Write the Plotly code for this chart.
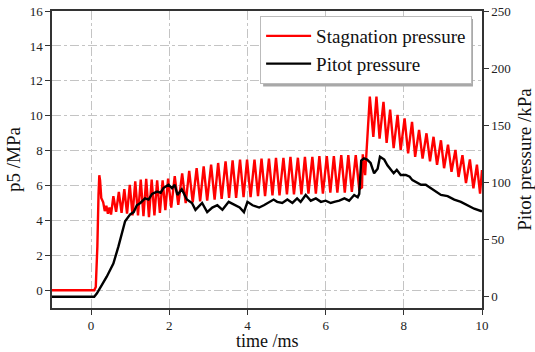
import plotly.graph_objects as go

# ---- data ----
stag_t = [-1.0, 0.08, 0.12, 0.16, 0.19, 0.21, 0.23, 0.26, 0.31, 0.35, 0.39, 0.43, 0.47, 0.51,
          0.57, 0.64, 0.71, 0.78, 0.85, 0.92, 0.99, 1.06, 1.13, 1.20, 1.27, 1.34, 1.41, 1.48,
          1.55, 1.62, 1.69, 1.76, 1.83, 1.90, 1.97, 2.05,
          2.14, 2.23, 2.33, 2.42, 2.51, 2.60, 2.70, 2.79, 2.88, 2.97, 3.07, 3.16, 3.25, 3.34,
          3.44, 3.53, 3.62, 3.71, 3.81, 3.90, 3.99, 4.08, 4.18, 4.27, 4.36, 4.45, 4.55, 4.64,
          4.73, 4.82, 4.92, 5.01, 5.10, 5.19, 5.29, 5.38, 5.47, 5.56, 5.66, 5.75, 5.84, 5.93,
          6.03, 6.12, 6.21, 6.30, 6.40, 6.49, 6.58, 6.67, 6.77, 6.86, 6.93, 6.95, 7.01,
          7.13, 7.22, 7.30, 7.38, 7.48, 7.56, 7.65, 7.74, 7.84, 7.92, 8.02, 8.11, 8.21, 8.29,
          8.39, 8.48, 8.58, 8.67, 8.76, 8.85, 8.95, 9.03, 9.13, 9.22, 9.32, 9.40, 9.50, 9.59,
          9.69, 9.78, 9.87, 9.95, 10.0]
stag_p = [0.02, 0.02, 0.2, 2.5, 5.5, 6.6, 6.3, 5.3, 5.05, 4.55, 4.85, 4.4, 4.75, 4.35,
          5.4, 4.5, 5.65, 4.45, 5.8, 4.4, 6.05, 4.3, 6.25, 4.3, 6.35, 4.25, 6.4, 4.2,
          6.35, 4.3, 6.3, 4.45, 6.3, 4.6, 6.4, 4.75,
          6.55, 4.9, 6.7, 5.0, 6.85, 5.05, 7.0, 5.1, 7.1, 5.15, 7.2, 5.2, 7.3, 5.25,
          7.4, 5.3, 7.45, 5.3, 7.5, 5.35, 7.5, 5.35, 7.5, 5.4, 7.55, 5.4, 7.55, 5.45,
          7.6, 5.45, 7.6, 5.5, 7.65, 5.5, 7.6, 5.5, 7.65, 5.55, 7.65, 5.55, 7.7, 5.55,
          7.7, 5.6, 7.7, 5.6, 7.75, 5.6, 7.75, 5.65, 7.75, 5.8, 5.9, 7.8, 6.6,
          11.1, 8.8, 11.1, 8.7, 10.8, 8.45, 10.35, 8.15, 10.05, 8.05, 9.85, 7.85, 9.65, 7.65,
          9.2, 7.55, 9.0, 7.4, 8.8, 7.2, 8.6, 7.0, 8.35, 6.8, 8.05, 6.5, 7.75, 6.15,
          7.5, 5.85, 7.2, 5.55, 6.9]

pitot_t = [-1.0, 0.08, 0.15, 0.27, 0.40, 0.57, 0.70, 0.87, 1.0, 1.09, 1.17, 1.26, 1.38, 1.47,
           1.56, 1.69, 1.78, 1.85, 1.98, 2.07, 2.14, 2.21, 2.32, 2.45, 2.58, 2.67, 2.75, 2.84,
           2.97, 3.1, 3.23, 3.36, 3.52, 3.67, 3.8, 3.91, 4.0, 4.13, 4.3, 4.42, 4.55, 4.67,
           4.76, 4.89, 5.02, 5.15, 5.27, 5.36, 5.49, 5.62, 5.75, 5.88, 6.0, 6.13, 6.22, 6.35,
           6.48, 6.6, 6.73, 6.82, 6.86, 6.91, 6.98, 7.06, 7.15, 7.24, 7.33, 7.39, 7.5, 7.58,
           7.67, 7.74, 7.82, 7.92, 8.05, 8.15, 8.22, 8.35, 8.44, 8.56, 8.69, 8.82, 8.95, 9.12,
           9.29, 9.46, 9.63, 9.8, 9.97, 10.0]
pitot_p = [0.0, 0.0, 3, 10, 17.5, 29, 44, 66, 72, 74, 80, 82, 86, 85,
           90, 92, 91, 95, 98, 95, 98, 89, 94, 85, 82, 76, 79, 82,
           74, 78, 80, 76, 83, 80, 78, 74, 83, 80, 78, 80, 83, 85,
           83, 82, 85, 82, 86, 83, 89, 84, 86, 83, 84, 82, 83, 84,
           86, 84, 89, 87, 90, 119, 121, 120, 117, 108, 112, 122.5, 120, 115,
           111, 108, 111, 106.5, 106.5, 105, 102, 100, 98, 98, 95, 92, 89, 88,
           85, 83, 80, 77, 75, 75]

x_ticks = [0, 2, 4, 6, 8, 10]
y_ticks = [0, 2, 4, 6, 8, 10, 12, 14, 16]
y2_ticks = [0, 50, 100, 150, 200, 250]

FONT = "Liberation Serif"
AX = "#333333"
GRID = "#c4c4c4"

fig = go.Figure()
fig.add_trace(go.Scatter(x=stag_t, y=stag_p, mode="lines", name="Stagnation pressure",
                         line=dict(color="#ff0000", width=2.4)))
fig.add_trace(go.Scatter(x=pitot_t, y=pitot_p, mode="lines", name="Pitot pressure",
                         yaxis="y2", line=dict(color="#000000", width=2.4)))

axis_common = dict(showline=True, linecolor=AX, linewidth=1.5, ticks="outside",
                   ticklen=5, tickwidth=1, tickcolor=AX, zeroline=False, automargin=False,
                   tickfont=dict(family=FONT, size=13, color="#222222"))

# legend drop shadow (paper coordinates of plot area)
fig.add_shape(type="rect", xref="paper", yref="paper",
              x0=0.491, x1=0.979, y0=0.746, y1=0.973,
              fillcolor="#a8a8a8", line=dict(width=0), layer="above")

# x-axis title as annotation, placed below the tick labels
fig.add_annotation(text="time /ms", xref="paper", yref="paper", x=0.5, y=-0.11,
                   xanchor="center", yanchor="middle", showarrow=False,
                   font=dict(family=FONT, size=18, color="#111111"))

fig.update_layout(
    width=535, height=352,
    margin=dict(l=52, r=53, t=11, b=44),
    paper_bgcolor="white", plot_bgcolor="white",
    font=dict(family=FONT, color="#111111"),
    xaxis=dict(range=[-1, 10], tickvals=x_ticks, mirror=True,
               showgrid=True, gridcolor=GRID, gridwidth=1, griddash="dashdot",
               **axis_common),
    yaxis=dict(range=[-1, 16], tickvals=y_ticks,
               showgrid=True, gridcolor=GRID, gridwidth=1, griddash="dashdot",
               title=dict(text="p5 /MPa", font=dict(family=FONT, size=19), standoff=4),
               **axis_common),
    yaxis2=dict(range=[-9.9, 250], tickvals=y2_ticks, overlaying="y", side="right",
                showgrid=False,
                title=dict(text="Pitot pressure /kPa", font=dict(family=FONT, size=19), standoff=9),
                **axis_common),
    legend=dict(x=0.977, y=0.983, xanchor="right", yanchor="top",
                bgcolor="white", bordercolor="#bbbbbb", borderwidth=1,
                font=dict(family=FONT, size=19, color="#111111"),
                itemwidth=45, tracegroupgap=0),
    showlegend=True,
)

fig.write_html("out.html", config={"displayModeBar": False},
               post_script="document.body.style.margin='0';")
